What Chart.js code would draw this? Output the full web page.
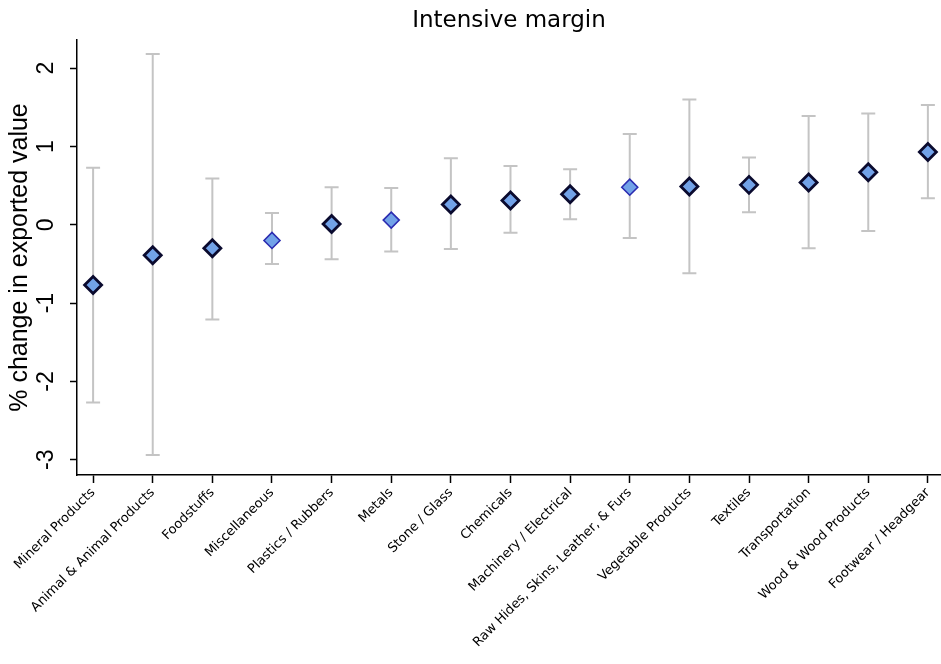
<!DOCTYPE html>
<html>
<head>
<meta charset="utf-8">
<script src="https://cdn.jsdelivr.net/npm/chart.js@4/dist/chart.umd.min.js"></script>
<style>
  html, body { margin: 0; padding: 0; background: #fff; }
  #wrap { width: 941px; height: 664px; }
</style>
</head>
<body>
<div id="wrap"><canvas id="marginChart"></canvas></div>
<script>
// categories along the x axis, left to right
const categories = [
  'Mineral Products', 'Animal & Animal Products', 'Foodstuffs', 'Miscellaneous',
  'Plastics / Rubbers', 'Metals', 'Stone / Glass', 'Chemicals',
  'Machinery / Electrical', 'Raw Hides, Skins, Leather, & Furs', 'Vegetable Products',
  'Textiles', 'Transportation', 'Wood & Wood Products', 'Footwear / Headgear'
];

// point estimates and confidence bounds (% change in exported value)
const estimates = [-0.77, -0.39, -0.30, -0.20, 0.01, 0.06, 0.26, 0.31, 0.39, 0.48, 0.49, 0.51, 0.54, 0.67, 0.93];
const upperBound = [0.73, 2.18, 0.59, 0.15, 0.48, 0.47, 0.85, 0.75, 0.71, 1.16, 1.60, 0.86, 1.39, 1.42, 1.53];
const lowerBound = [-2.27, -2.94, -1.21, -0.50, -0.44, -0.34, -0.31, -0.10, 0.07, -0.17, -0.62, 0.16, -0.30, -0.08, 0.34];

// markers drawn with the dark outline
const darkOutline = [true, true, true, false, true, false, true, true, true, false, true, true, true, true, true];

// y axis tick values
const yTicks = [-3, -2, -1, 0, 1, 2];

//errorBars : draw the grey whiskers behind the diamonds using the chart scales
const errorBars = {
  id: 'errorBars',
  beforeDatasetsDraw(chart) {
    const ctx = chart.ctx;
    const xs = chart.scales.x;
    const ys = chart.scales.y;
    ctx.save();
    ctx.strokeStyle = '#c4c4c4';
    ctx.lineWidth = 2;
    categories.forEach(function(c, i) {
      const px = xs.getPixelForValue(i);
      const top = ys.getPixelForValue(upperBound[i]);
      const bot = ys.getPixelForValue(lowerBound[i]);
      ctx.beginPath();
      ctx.moveTo(px, top); ctx.lineTo(px, bot);
      ctx.moveTo(px - 7, top); ctx.lineTo(px + 7, top);
      ctx.moveTo(px - 7, bot); ctx.lineTo(px + 7, bot);
      ctx.stroke();
    });
    ctx.restore();
  }
};

const points = estimates.map(function(v, i) { return { x: i, y: v }; });

new Chart(document.getElementById('marginChart'), {
  type: 'scatter',
  data: {
    datasets: [{
      data: points,
      pointStyle: 'rectRot',
      pointRadius: darkOutline.map(d => d ? 8.5 : 8),
      pointHoverRadius: 8.5,
      backgroundColor: '#72a2e8',
      borderColor: darkOutline.map(d => d ? '#0a0a2e' : '#2b2bb0'),
      borderWidth: darkOutline.map(d => d ? 2.8 : 1.6),
      showLine: false
    }]
  },
  plugins: [errorBars],
  options: {
    responsive: true,
    maintainAspectRatio: false,
    animation: false,
    layout: { autoPadding: false, padding: { left: 0, right: 0, top: 0, bottom: 0 } },
    plugins: {
      legend: { display: false },
      tooltip: { enabled: false },
      title: {
        display: true,
        fullSize: false,
        text: 'Intensive margin',
        color: '#000',
        font: { family: 'DejaVu Sans', size: 23, weight: 'normal' },
        padding: { top: 7, bottom: 5.4 }
      }
    },
    scales: {
      x: {
        type: 'linear',
        min: -0.27,
        max: 14.22,
        afterBuildTicks: function(scale) {
          scale.ticks = categories.map((c, i) => ({ value: i }));
        },
        afterFit: function(scale) {
          scale.height = 189;
          scale.paddingLeft = 0;
          scale.paddingRight = 0;
        },
        grid: { display: true, drawOnChartArea: false, drawTicks: true, tickLength: 8, tickWidth: 1.5, tickColor: '#000' },
        border: { display: true, color: '#000', width: 1.5 },
        ticks: {
          color: '#000',
          autoSkip: false,
          minRotation: 45,
          maxRotation: 45,
          padding: 2,
          font: { family: 'DejaVu Sans', size: 13 },
          callback: function(v) { return categories[v]; }
        }
      },
      y: {
        min: -3.195,
        max: 2.36,
        afterBuildTicks: function(scale) {
          scale.ticks = yTicks.map(v => ({ value: v }));
        },
        afterFit: function(scale) { scale.width = 77; },
        grid: { display: true, drawOnChartArea: false, drawTicks: true, tickLength: 7, tickWidth: 1.5, tickColor: '#000' },
        border: { display: true, color: '#000', width: 1.5 },
        title: {
          display: true,
          text: '% change in exported value',
          color: '#000',
          font: { family: 'Liberation Sans', size: 25 },
          padding: { top: 5, bottom: 0 }
        },
        ticks: {
          color: '#000',
          minRotation: 90,
          maxRotation: 90,
          crossAlign: 'center',
          padding: 13,
          font: { family: 'Liberation Sans', size: 23 }
        }
      }
    }
  }
});
</script>
</body>
</html>
